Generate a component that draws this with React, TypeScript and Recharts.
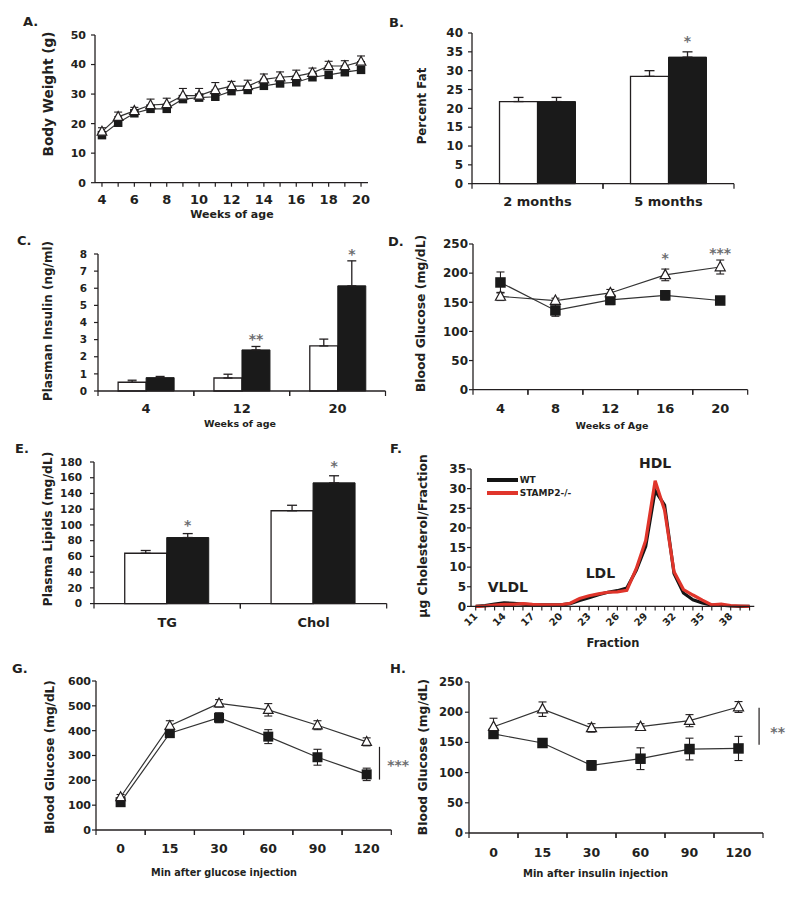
import React from "react";
import {
  LineChart,
  BarChart,
  Line,
  Bar,
  XAxis,
  YAxis,
  ErrorBar,
  ReferenceDot,
  ReferenceLine,
  LabelList,
  Legend,
} from "recharts";

const INK = "#231f20";
const LINE = "#333";
const FILL = "#1a1a1a";
const STAR = "#6d6e71";
const FONT = "'DejaVu Sans', Verdana, sans-serif";

// ---- A. body weight ----
const weeks = [4, 5, 6, 7, 8, 9, 10, 11, 12, 13, 14, 15, 16, 17, 18, 19, 20];
const triWeight = [17.3, 22.3, 24.3, 26.3, 26.6, 29.5, 29.5, 31.4, 32.7, 32.7, 35, 35.7, 36.1, 37.2, 39.5, 39.5, 41];
const triWeightErr = [1.3, 1.6, 1.2, 2, 2, 2.4, 2.4, 2.5, 1.6, 2, 1.8, 1.8, 2, 1.6, 1.6, 1.8, 1.9];
const sqWeight = [16.1, 20.3, 23.5, 25, 25, 28.3, 28.8, 29.1, 31, 31.4, 32.8, 33.6, 34, 35.7, 36.5, 37.4, 38.2];
const weightTicks = [0, 10, 20, 30, 40, 50];

// ---- B. percent fat ----
const fatGroups = ["2 months", "5 months"];
const fatOpen = [21.8, 28.5];
const fatOpenErr = [1.1, 1.5];
const fatFilled = [21.8, 33.6];
const fatFilledErr = [1.1, 1.4];
const fatSig = ["", "*"];
const fatSigAt = [0, 38.6];
const fatTicks = [0, 5, 10, 15, 20, 25, 30, 35, 40];

// ---- C. insulin ----
const insulinWeeks = ["4", "12", "20"];
const insulinOpen = [0.51, 0.76, 2.63];
const insulinOpenErr = [0.12, 0.22, 0.4];
const insulinFilled = [0.78, 2.4, 6.14];
const insulinFilledErr = [0.07, 0.2, 1.46];
const insulinSig = ["", "**", "*"];
const insulinSigAt = [0, 3.2, 8.15];
const insulinTicks = [0, 1, 2, 3, 4, 5, 6, 7, 8];

// ---- D. blood glucose by age ----
const glucoseWeeks = ["4", "8", "12", "16", "20"];
const triGlucose = [160, 153, 166, 197, 210.5];
const triGlucoseErr = [7, 4, 6, 10, 12];
const sqGlucose = [184, 136, 154, 162, 153];
const sqGlucoseErr = [18, 10, 8, 8, 5];
const glucoseSig = ["", "", "", "*", "***"];
const glucoseSigAt = [0, 0, 0, 231, 240];
const glucoseTicks = [0, 50, 100, 150, 200, 250];

// ---- E. plasma lipids ----
const lipidGroups = ["TG", "Chol"];
const lipidOpen = [64, 118];
const lipidOpenErr = [3.5, 7];
const lipidFilled = [84, 153.5];
const lipidFilledErr = [5, 9];
const lipidSig = ["*", "*"];
const lipidSigAt = [103.7, 178];
const lipidTicks = [0, 20, 40, 60, 80, 100, 120, 140, 160, 180];

// ---- F. FPLC cholesterol ----
const fractions = [11, 12, 13, 14, 15, 16, 17, 18, 19, 20, 21, 22, 23, 24, 25, 26, 27, 28, 29, 30, 31, 32, 33, 34, 35, 36, 37, 38, 39, 40];
const fractionLabels = [11, 14, 17, 20, 23, 26, 29, 32, 35, 38];
const cholWT = [0, 0.2, 0.6, 0.9, 0.8, 0.6, 0.4, 0.4, 0.4, 0.4, 0.7, 1.5, 2.2, 3.0, 3.6, 4.0, 4.7, 9.2, 15.3, 29.5, 25.8, 8.4, 3.4, 1.7, 0.9, 0.3, 0.3, 0.1, 0, 0];
const cholKO = [0, 0.1, 0.3, 0.5, 0.5, 0.7, 0.5, 0.4, 0.4, 0.4, 0.8, 2.0, 2.7, 3.2, 3.6, 3.7, 4.1, 9.6, 16.8, 32.0, 24.5, 8.8, 4.3, 2.9, 1.6, 0.4, 0.6, 0.2, 0.1, 0];
const cholSeries = ["WT", "STAMP2-/-"];
const cholTicks = [0, 5, 10, 15, 20, 25, 30, 35];
const peakNames = ["VLDL", "LDL", "HDL"];
const peakAt = [
  { x: 14.4, y: 5.0 },
  { x: 24.2, y: 8.6 },
  { x: 30.0, y: 36.5 },
];

// ---- G. glucose tolerance ----
const gttTimes = ["0", "15", "30", "60", "90", "120"];
const triGtt = [133, 420, 510, 484, 422, 355];
const triGttErr = [10, 20, 15, 25, 18, 16];
const sqGtt = [112, 390, 452, 376, 293, 224];
const sqGttErr = [8, 12, 20, 28, 32, 25];
const gttTicks = [0, 100, 200, 300, 400, 500, 600];
const gttBracket = { x: 5.76, y1: 203, y2: 335, starX: 6.14, starY: 272, text: "***" };

// ---- H. insulin tolerance ----
const ittTimes = ["0", "15", "30", "60", "90", "120"];
const triItt = [176, 205, 174, 176, 186, 208.6];
const triIttErr = [14, 12, 7, 5, 10, 9];
const sqItt = [164, 149, 112, 123, 139, 140];
const sqIttErr = [7, 7, 8, 18, 18, 20];
const ittTicks = [0, 50, 100, 150, 200, 250];
const ittBracket = { x: 5.92, y1: 146, y2: 207.5, starX: 6.3, starY: 171, text: "**" };

// ---- layout (plot rectangles on the page) ----
type Plot = { x0: number; x1: number; yTop: number; yBot: number };
const PA: Plot = { x0: 95, x1: 368, yTop: 35, yBot: 182.7 };
const PB: Plot = { x0: 472, x1: 734, yTop: 33.3, yBot: 184 };
const PC: Plot = { x0: 98, x1: 385.5, yTop: 254, yBot: 391 };
const PD: Plot = { x0: 473.3, x1: 748, yTop: 244.3, yBot: 390 };
const PE: Plot = { x0: 94.3, x1: 387, yTop: 461.7, yBot: 603.3 };
const PF: Plot = { x0: 470.7, x1: 754, yTop: 469.3, yBot: 606.7 };
const PG: Plot = { x0: 95.7, x1: 391, yTop: 681, yBot: 830 };
const PH: Plot = { x0: 469.3, x1: 763.3, yTop: 682.3, yBot: 833.3 };

const YW = 72;
const MT = 24;
const MR = 44;
const XH = 64;
const MARGIN = { top: MT, right: MR, left: 0, bottom: 0 };

function frame(p: Plot) {
  return {
    left: p.x0 - YW,
    top: p.yTop - MT,
    width: p.x1 - p.x0 + YW + MR,
    height: p.yBot - p.yTop + MT + XH,
  };
}

function boxStyle(f: ReturnType<typeof frame>): React.CSSProperties {
  return { position: "absolute", left: f.left, top: f.top, width: f.width, height: f.height };
}

const axisLine = { stroke: INK, strokeWidth: 1.3 };

const yAxisProps = (fs: number, gap: number) => ({
  width: YW,
  tickSize: 4,
  tickMargin: gap,
  interval: 0 as const,
  axisLine,
  tickLine: { stroke: INK, strokeWidth: 1.2 },
  tick: { fontSize: fs, fontWeight: 700, fill: INK },
});

// tick label at the bin centre, tick marks at the bin edges
function BinTick(props: any) {
  const { x, y, payload, half, fs, capTop, labels } = props;
  const text = labels ? labels[Math.round(payload.value - 0.5)] : payload.value;
  return (
    <g>
      <line x1={x - half} x2={x - half} y1={y} y2={y + 5} stroke={INK} strokeWidth={1.2} />
      <line x1={x + half} x2={x + half} y1={y} y2={y + 5} stroke={INK} strokeWidth={1.2} />
      <text x={x} y={y + capTop + 0.73 * fs} textAnchor="middle" fontSize={fs} fontWeight={700} fill={INK}>
        {text}
      </text>
    </g>
  );
}

const binAxis = (p: Plot, n: number, fs: number, capTop: number, labels?: string[]) => ({
  height: XH,
  interval: 0 as const,
  tickSize: 0,
  tickMargin: 0,
  tickLine: false,
  axisLine,
  tick: (t: any) => <BinTick {...t} half={(p.x1 - p.x0) / (2 * n)} fs={fs} capTop={capTop} labels={labels} />,
});

const triDot = (s: number) => (p: any) => {
  const { cx, cy, index } = p;
  if (cx == null || cy == null) return <g key={`t${index}`} />;
  return (
    <path
      key={`t${index}`}
      d={`M${cx},${cy - s * 1.1}L${cx + s},${cy + s * 0.75}L${cx - s},${cy + s * 0.75}Z`}
      fill="#fff"
      stroke={INK}
      strokeWidth={1.2}
    />
  );
};

const sqDot = (s: number) => (p: any) => {
  const { cx, cy, index } = p;
  if (cx == null || cy == null) return <g key={`s${index}`} />;
  return <rect key={`s${index}`} x={cx - s / 2} y={cy - s / 2} width={s} height={s} fill={FILL} />;
};

// text pinned at a data point (shift = how far the baseline sits below the point, in em)
const pinText = (text: string, fs: number, color: string, shift: number) => (p: any) => {
  const vb = p.viewBox || {};
  const cx = (vb.x ?? 0) + (vb.width ?? 0) / 2;
  const cy = (vb.y ?? 0) + (vb.height ?? 0) / 2;
  return (
    <text x={cx} y={cy + shift * fs} textAnchor="middle" fontSize={fs} fontWeight={700} fill={color}>
      {text}
    </text>
  );
};

// significance star above a bar, placed with the bar's own px-per-unit
const sigLabel = (sig: string[], at: number[], vals: number[], fs = 14) => (p: any) => {
  const i = p.index;
  if (!sig[i]) return null;
  const vb = p.viewBox && p.viewBox.height != null ? p.viewBox : p;
  const base = vb.y + vb.height;
  const k = vb.height / vals[i];
  const cy = base - at[i] * k;
  return (
    <text key={`sig${i}`} x={vb.x + vb.width / 2} y={cy + 0.55 * fs} textAnchor="middle" fontSize={fs} fontWeight={700} fill={STAR}>
      {sig[i]}
    </text>
  );
};

function WeightPanel() {
  const f = frame(PA);
  const data = weeks.map((week, i) => ({
    week,
    tri: triWeight[i],
    triErr: [0, triWeightErr[i]],
    sq: sqWeight[i],
  }));
  return (
    <div style={boxStyle(f)}>
      <LineChart width={f.width} height={f.height} data={data} margin={MARGIN}>
        <XAxis
          type="number"
          dataKey="week"
          domain={[3.57, 20.43]}
          ticks={weeks}
          interval={0}
          height={XH}
          tickSize={4}
          tickMargin={8}
          axisLine={axisLine}
          tickLine={{ stroke: INK, strokeWidth: 1.2 }}
          tick={{ fontSize: 13, fontWeight: 700, fill: INK }}
          tickFormatter={(v: number) => (v % 2 === 0 ? String(v) : "")}
        />
        <YAxis {...yAxisProps(11, 5)} domain={[0, 50]} ticks={weightTicks} />
        <Line dataKey="sq" stroke={LINE} strokeWidth={1.2} dot={sqDot(8.5)} activeDot={false} isAnimationActive={false} />
        <Line dataKey="tri" stroke={LINE} strokeWidth={1.2} dot={triDot(4.8)} activeDot={false} isAnimationActive={false}>
          <ErrorBar dataKey="triErr" direction="y" width={4} stroke={INK} strokeWidth={1.1} />
        </Line>
      </LineChart>
    </div>
  );
}

function GroupBars(props: {
  p: Plot;
  groups: string[];
  open: number[];
  openErr: number[];
  filled: number[];
  filledErr: number[];
  sig: string[];
  sigAt: number[];
  domain: [number, number];
  ticks: number[];
  yFont: number;
  yGap: number;
  capTop: number;
  capW: number;
}) {
  const { p, groups } = props;
  const f = frame(p);
  const data = groups.map((cat, i) => ({
    cat,
    open: props.open[i],
    openErr: [0, props.openErr[i]],
    filled: props.filled[i],
    filledErr: [0, props.filledErr[i]],
  }));
  return (
    <div style={boxStyle(f)}>
      <BarChart width={f.width} height={f.height} data={data} margin={MARGIN} barCategoryGap="21%" barGap={0}>
        <XAxis dataKey="cat" {...binAxis(p, groups.length, 13, props.capTop)} />
        <YAxis {...yAxisProps(props.yFont, props.yGap)} domain={props.domain} ticks={props.ticks} />
        <Bar dataKey="open" fill="#fff" stroke={INK} strokeWidth={1.3} isAnimationActive={false}>
          <ErrorBar dataKey="openErr" direction="y" width={props.capW} stroke={INK} strokeWidth={1.3} />
        </Bar>
        <Bar dataKey="filled" fill={FILL} stroke={FILL} strokeWidth={1} isAnimationActive={false}>
          <ErrorBar dataKey="filledErr" direction="y" width={props.capW} stroke={INK} strokeWidth={1.3} />
          <LabelList dataKey="filled" content={sigLabel(props.sig, props.sigAt, props.filled)} />
        </Bar>
      </BarChart>
    </div>
  );
}

function TimeLines(props: {
  p: Plot;
  labels: string[];
  tri: number[];
  triErr: number[];
  sq: number[];
  sqErr: number[];
  domain: [number, number];
  ticks: number[];
  yFont: number;
  yGap: number;
  xFont: number;
  capTop: number;
  size: number;
  children?: React.ReactNode;
}) {
  const { p, labels } = props;
  const f = frame(p);
  const n = labels.length;
  const data = labels.map((lab, i) => ({
    pos: i + 0.5,
    lab,
    tri: props.tri[i],
    triErr: props.triErr[i],
    sq: props.sq[i],
    sqErr: props.sqErr[i],
  }));
  return (
    <div style={boxStyle(f)}>
      <LineChart width={f.width} height={f.height} data={data} margin={MARGIN}>
        <XAxis
          type="number"
          dataKey="pos"
          domain={[0, n]}
          ticks={data.map((d) => d.pos)}
          {...binAxis(p, n, props.xFont, props.capTop, labels)}
        />
        <YAxis {...yAxisProps(props.yFont, props.yGap)} domain={props.domain} ticks={props.ticks} />
        <Line dataKey="sq" stroke={LINE} strokeWidth={1.2} dot={sqDot(props.size)} activeDot={false} isAnimationActive={false}>
          <ErrorBar dataKey="sqErr" direction="y" width={4} stroke={INK} strokeWidth={1.1} />
        </Line>
        <Line dataKey="tri" stroke={LINE} strokeWidth={1.2} dot={triDot(props.size * 0.48)} activeDot={false} isAnimationActive={false}>
          <ErrorBar dataKey="triErr" direction="y" width={4} stroke={INK} strokeWidth={1.1} />
        </Line>
        {props.children}
      </LineChart>
    </div>
  );
}

function RotTick(props: any) {
  const { x, y, payload } = props;
  if (!fractionLabels.includes(payload.value)) return <g />;
  return (
    <text
      x={x}
      y={y}
      dy="0.35em"
      transform={`rotate(-45 ${x} ${y})`}
      textAnchor="end"
      fontSize={10}
      fontWeight={700}
      fill={INK}
    >
      {payload.value}
    </text>
  );
}

const cholLegend = (lp: any) => {
  const items = cholSeries
    .map((name) => (lp.payload || []).find((e: any) => e.value === name))
    .filter(Boolean);
  return (
    <div>
      {items.map((e: any) => (
        <div key={e.value} style={{ display: "flex", alignItems: "center", height: 13 }}>
          <span style={{ display: "inline-block", width: 31, height: 4, background: e.color, marginRight: 2 }} />
          <span style={{ fontSize: 9, fontWeight: 700, color: INK, fontFamily: FONT, lineHeight: "13px" }}>{e.value}</span>
        </div>
      ))}
    </div>
  );
};

function CholPanel() {
  const f = frame(PF);
  const data = fractions.map((fraction, i) => ({ fraction, wt: cholWT[i], ko: cholKO[i] }));
  return (
    <div style={boxStyle(f)}>
      <LineChart width={f.width} height={f.height} data={data} margin={MARGIN}>
        <XAxis
          type="number"
          dataKey="fraction"
          domain={[10.5, 40.5]}
          ticks={fractions}
          interval={0}
          height={XH}
          tickSize={4}
          tickMargin={4}
          axisLine={axisLine}
          tickLine={{ stroke: INK, strokeWidth: 1.1 }}
          tick={(t: any) => <RotTick {...t} />}
        />
        <YAxis {...yAxisProps(12, 1)} domain={[0, 35]} ticks={cholTicks} />
        <Legend
          verticalAlign="middle"
          align="center"
          layout="horizontal"
          wrapperStyle={{ left: 88, top: 28.5, width: 110 }}
          content={cholLegend}
        />
        <Line dataKey="wt" name={cholSeries[0]} stroke="#141414" strokeWidth={3.2} dot={false} activeDot={false} isAnimationActive={false} />
        <Line dataKey="ko" name={cholSeries[1]} stroke="#e0352b" strokeWidth={3.2} dot={false} activeDot={false} isAnimationActive={false} />
        {peakNames.map((name, i) => (
          <ReferenceDot
            key={name}
            x={peakAt[i].x}
            y={peakAt[i].y}
            r={0}
            fill="none"
            stroke="none"
            ifOverflow="visible"
            label={pinText(name, 14, INK, 0.36)}
          />
        ))}
      </LineChart>
    </div>
  );
}

function bracket(b: { x: number; y1: number; y2: number; starX: number; starY: number; text: string }) {
  return [
    <ReferenceLine
      key="br"
      segment={[
        { x: b.x, y: b.y1 },
        { x: b.x, y: b.y2 },
      ]}
      stroke={INK}
      strokeWidth={1.2}
      ifOverflow="visible"
    />,
    <ReferenceDot
      key="bs"
      x={b.starX}
      y={b.starY}
      r={0}
      fill="none"
      stroke="none"
      ifOverflow="visible"
      label={pinText(b.text, 14, STAR, 0.55)}
    />,
  ];
}

const letters: [string, number, number][] = [
  ["A.", 23, 26],
  ["B.", 389, 26.5],
  ["C.", 17, 245],
  ["D.", 388, 246],
  ["E.", 15, 453],
  ["F.", 390, 453],
  ["G.", 12, 672.5],
  ["H.", 390, 673],
];

const yTitles: [string, number, number, number][] = [
  ["Body Weight (g)", 48.5, 94, 13.7],
  ["Percent Fat", 421.5, 106, 11.8],
  ["Plasman Insulin (ng/ml)", 47.5, 321, 12],
  ["Blood Glucose (mg/dL)", 420.5, 313.5, 12.4],
  ["Plasma Lipids (mg/dL)", 47.5, 529, 12.4],
  ["\u00b5g Cholesterol/Fraction", 422.5, 536, 12.4],
  ["Blood Glucose (mg/dL)", 49.5, 757, 12.1],
  ["Blood Glucose (mg/dL)", 422.5, 757, 12.3],
];

const xTitles: [string, number, number, number][] = [
  ["Weeks of age", 232, 218, 11],
  ["Weeks of age", 240, 426.5, 9.5],
  ["Weeks of Age", 612, 429, 9.5],
  ["Fraction", 613, 647, 11.5],
  ["Min after glucose injection", 224, 876, 9.7],
  ["Min after insulin injection", 595.5, 877, 10],
];

function Titles() {
  return (
    <svg width={800} height={898} style={{ position: "absolute", left: 0, top: 0, pointerEvents: "none" }}>
      {letters.map(([t, x, y]) => (
        <text key={t} x={x} y={y} fontSize={13} fontWeight={700} fill={INK}>
          {t}
        </text>
      ))}
      {yTitles.map(([t, x, y, fs], i) => (
        <text
          key={`y${i}`}
          x={x}
          y={y}
          dy={0.36 * fs}
          transform={`rotate(-90 ${x} ${y})`}
          textAnchor="middle"
          fontSize={fs}
          fontWeight={700}
          fill={INK}
        >
          {t}
        </text>
      ))}
      {xTitles.map(([t, x, y, fs], i) => (
        <text key={`x${i}`} x={x} y={y} textAnchor="middle" fontSize={fs} fontWeight={700} fill={INK}>
          {t}
        </text>
      ))}
    </svg>
  );
}

export default function App() {
  return (
    <div
      style={{
        position: "absolute",
        left: 0,
        top: 0,
        width: 800,
        height: 898,
        background: "#fff",
        overflow: "hidden",
        fontFamily: FONT,
      }}
    >
      <WeightPanel />
      <GroupBars
        p={PB}
        groups={fatGroups}
        open={fatOpen}
        openErr={fatOpenErr}
        filled={fatFilled}
        filledErr={fatFilledErr}
        sig={fatSig}
        sigAt={fatSigAt}
        domain={[0, 40]}
        ticks={fatTicks}
        yFont={12}
        yGap={5}
        capTop={12.7}
        capW={5}
      />
      <GroupBars
        p={PC}
        groups={insulinWeeks}
        open={insulinOpen}
        openErr={insulinOpenErr}
        filled={insulinFilled}
        filledErr={insulinFilledErr}
        sig={insulinSig}
        sigAt={insulinSigAt}
        domain={[0, 8]}
        ticks={insulinTicks}
        yFont={10.5}
        yGap={7}
        capTop={12.3}
        capW={4.5}
      />
      <TimeLines
        p={PD}
        labels={glucoseWeeks}
        tri={triGlucose}
        triErr={triGlucoseErr}
        sq={sqGlucose}
        sqErr={sqGlucoseErr}
        domain={[0, 250]}
        ticks={glucoseTicks}
        yFont={12}
        yGap={1}
        xFont={13}
        capTop={13.5}
        size={10.5}
      >
        {glucoseSig.map((s, i) =>
          s ? (
            <ReferenceDot
              key={`gs${i}`}
              x={i + 0.5}
              y={glucoseSigAt[i]}
              r={0}
              fill="none"
              stroke="none"
              ifOverflow="visible"
              label={pinText(s, 14, STAR, 0.55)}
            />
          ) : null
        )}
      </TimeLines>
      <GroupBars
        p={PE}
        groups={lipidGroups}
        open={lipidOpen}
        openErr={lipidOpenErr}
        filled={lipidFilled}
        filledErr={lipidFilledErr}
        sig={lipidSig}
        sigAt={lipidSigAt}
        domain={[0, 180]}
        ticks={lipidTicks}
        yFont={10.5}
        yGap={8}
        capTop={14.4}
        capW={5}
      />
      <CholPanel />
      <TimeLines
        p={PG}
        labels={gttTimes}
        tri={triGtt}
        triErr={triGttErr}
        sq={sqGtt}
        sqErr={sqGttErr}
        domain={[0, 600]}
        ticks={gttTicks}
        yFont={11}
        yGap={1}
        xFont={12.5}
        capTop={14.3}
        size={10}
      >
        {bracket(gttBracket)}
      </TimeLines>
      <TimeLines
        p={PH}
        labels={ittTimes}
        tri={triItt}
        triErr={triIttErr}
        sq={sqItt}
        sqErr={sqIttErr}
        domain={[0, 250]}
        ticks={ittTicks}
        yFont={11.5}
        yGap={2}
        xFont={12.5}
        capTop={15}
        size={10.5}
      >
        {bracket(ittBracket)}
      </TimeLines>
      <Titles />
    </div>
  );
}
